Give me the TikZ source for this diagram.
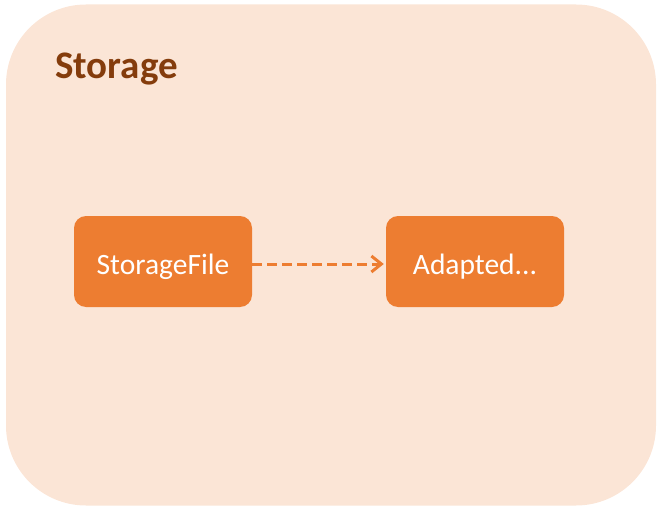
\documentclass[tikz,border=0pt]{standalone}
\usepackage{fontspec}
\setmainfont{Carlito}
\usetikzlibrary{arrows.meta}
\definecolor{outerfill}{HTML}{FBE5D6}
\definecolor{boxfill}{HTML}{ED7D31}
\definecolor{titlecol}{HTML}{843C0C}
\tikzset{
  compbox/.style={fill=boxfill, draw=none, rounded corners=12pt, minimum width=178pt, minimum height=91pt, inner sep=0pt, text=white, font=\fontsize{29.5}{34}\selectfont, text height=25pt, text depth=0pt},
  depend/.style={draw=boxfill, line width=3pt, dash pattern=on 10pt off 5pt, -{Straight Barb[length=10pt,width=16pt,line width=3pt]}}
}
\begin{document}
\begin{tikzpicture}[x=1pt,y=1pt]
\useasboundingbox (0,0) rectangle (664,507);
\node[fill=outerfill, draw=none, rounded corners=80pt, minimum width=650pt, minimum height=501pt, inner sep=0pt] (outer) at (331,252) {};
\node[anchor=base west, text=titlecol, font=\bfseries\fontsize{39}{44}\selectfont, inner sep=0pt] (title) at (55,428) {Storage};
\node[compbox] (sf) at (163,245.5) {StorageFile};
\node[compbox] (ad) at (475,245.5) {Adapted...};
\draw[depend] ([yshift=-2.5pt]sf.east) -- ([xshift=-2pt,yshift=-2.5pt]ad.west);
\end{tikzpicture}
\end{document}
